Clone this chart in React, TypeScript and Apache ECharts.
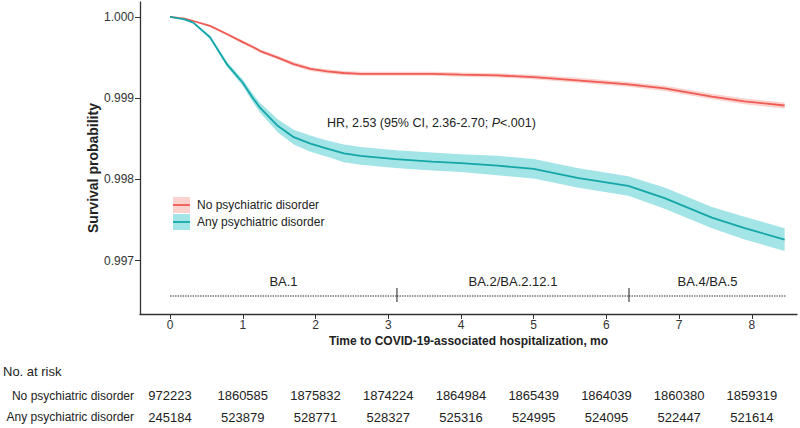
import React, { useEffect, useRef } from "react";
import * as echarts from "echarts";

const FONT = '"Liberation Sans", Arial, sans-serif';

// Time points (months)
const months = [0, 0.2, 0.32, 0.55, 0.78, 1.0, 1.14, 1.24, 1.48, 1.7, 1.93, 2.16, 2.39, 2.62, 3.1, 3.6, 4.0, 4.5, 5.0, 5.6, 6.3, 6.8, 7.45, 7.9, 8.45];

// No psychiatric disorder
const noPsySurv = [1.0, 0.99998, 0.99995, 0.99989, 0.99979, 0.99969, 0.99963, 0.99958, 0.9995, 0.99942, 0.99936, 0.99933, 0.99931, 0.9993, 0.9993, 0.9993, 0.99929, 0.99928, 0.99926, 0.99922, 0.99917, 0.99912, 0.99902, 0.99896, 0.99891];
const noPsyLower = [1.0, 0.999977, 0.999945, 0.99988, 0.999775, 0.99967, 0.99961, 0.99956, 0.999478, 0.999396, 0.999335, 0.999305, 0.999285, 0.999275, 0.999275, 0.999275, 0.999264, 0.999253, 0.999232, 0.99919, 0.99914, 0.999088, 0.998986, 0.998924, 0.998872];
const noPsyUpper = [1.0, 0.999983, 0.999955, 0.9999, 0.999805, 0.99971, 0.99965, 0.9996, 0.999522, 0.999444, 0.999385, 0.999355, 0.999335, 0.999325, 0.999325, 0.999325, 0.999316, 0.999307, 0.999288, 0.99925, 0.9992, 0.999152, 0.999054, 0.998996, 0.998948];

// Any psychiatric disorder
const anyPsySurv = [1.0, 0.99997, 0.99993, 0.99975, 0.99942, 0.99919, 0.999, 0.99888, 0.99866, 0.99852, 0.99844, 0.99838, 0.99832, 0.99829, 0.99825, 0.99822, 0.9982, 0.99817, 0.99813, 0.99802, 0.99792, 0.99777, 0.99753, 0.9974, 0.99726];
const anyPsyLower = [1.0, 0.999965, 0.99992, 0.99973, 0.99939, 0.99915, 0.99895, 0.99882, 0.99858, 0.99843, 0.99834, 0.99828, 0.99821, 0.99818, 0.99814, 0.99811, 0.99809, 0.99805, 0.99801, 0.9979, 0.9978, 0.99764, 0.9974, 0.99726, 0.99712];
const anyPsyUpper = [1.0, 0.999975, 0.99994, 0.99977, 0.99945, 0.99923, 0.99905, 0.99894, 0.99874, 0.99861, 0.99854, 0.99848, 0.99843, 0.9984, 0.99836, 0.99833, 0.99831, 0.99829, 0.99825, 0.99814, 0.99804, 0.9979, 0.99766, 0.99754, 0.9974];

const tickMonths = [0, 1, 2, 3, 4, 5, 6, 7, 8];
const yTicks = [0.997, 0.998, 0.999, 1.0];

const groupNames = ["No psychiatric disorder", "Any psychiatric disorder"];
const riskNoPsy = [972223, 1860585, 1875832, 1874224, 1864984, 1865439, 1864039, 1860380, 1859319];
const riskAnyPsy = [245184, 523879, 528771, 528327, 525316, 524995, 524095, 522447, 521614];

const variantNames = ["BA.1", "BA.2/BA.2.12.1", "BA.4/BA.5"];
const variantStart = [0, 3.12, 6.31];
const variantEnd = [3.12, 6.31, 8.47];

const X_MIN = -0.413;
const X_MAX = 8.62;
const Y_MIN = 0.996343;
const Y_MAX = 1.000184;

const RED_LINE = "#EF5B55";
const RED_BAND = "#FBD2CE";
const TEAL_LINE = "#14A6A9";
const TEAL_BAND = "#A3E4E6";

const pair = (xs: number[], ys: number[]) => xs.map((x, i) => [x, ys[i]]);

const bandSeries = (lower: number[], upper: number[], fill: string) => ({
  type: "custom",
  xAxisIndex: 0,
  yAxisIndex: 0,
  silent: true,
  data: [[months[0], upper[0]]],
  encode: { x: 0, y: 1 },
  renderItem: (_params: any, api: any) => {
    const top = months.map((m, i) => api.coord([m, upper[i]]));
    const bottom = months.map((m, i) => api.coord([m, lower[i]])).reverse();
    return {
      type: "polygon",
      shape: { points: top.concat(bottom) },
      style: { fill, stroke: "none" },
    };
  },
});

export default function App() {
  const ref = useRef<HTMLDivElement>(null);

  useEffect(() => {
    if (!ref.current) return;
    const chart = echarts.init(ref.current, undefined, { renderer: "svg" });

    const txt = (size: number, extra: any = {}) => ({
      fontFamily: FONT,
      fontSize: size,
      fill: "#222",
      ...extra,
    });

    const option: any = {
      animation: false,
      backgroundColor: "#fff",
      grid: [
        { left: 140, right: 3, top: 2, bottom: 114 },
        { left: 140, right: 3, top: 385, height: 46.6 },
      ],
      xAxis: [
        {
          type: "value",
          gridIndex: 0,
          min: X_MIN,
          max: X_MAX,
          splitLine: { show: false },
          axisLine: { show: true, onZero: false, lineStyle: { color: "#333", width: 1.3 } },
          axisTick: { show: true, length: 5, customValues: tickMonths, lineStyle: { color: "#333" } },
          axisLabel: { customValues: tickMonths, fontSize: 12, color: "#333", margin: 5, fontFamily: FONT },
        },
        { type: "value", gridIndex: 1, min: X_MIN, max: X_MAX, show: false },
      ],
      yAxis: [
        {
          type: "value",
          gridIndex: 0,
          min: Y_MIN,
          max: Y_MAX,
          splitLine: { show: false },
          axisLine: { show: true, onZero: false, lineStyle: { color: "#333", width: 1.3 } },
          axisTick: { show: true, length: 5, customValues: yTicks, lineStyle: { color: "#333" } },
          axisLabel: {
            customValues: yTicks,
            fontSize: 12,
            color: "#333",
            margin: 6,
            fontFamily: FONT,
            formatter: (v: number) => v.toFixed(3),
          },
        },
        {
          type: "category",
          gridIndex: 1,
          data: groupNames,
          inverse: true,
          axisLine: { show: false },
          axisTick: { show: false },
          splitLine: { show: false },
          axisLabel: { fontSize: 12, color: "#222", margin: 6, fontFamily: FONT },
        },
      ],
      series: [
        bandSeries(noPsyLower, noPsyUpper, RED_BAND),
        bandSeries(anyPsyLower, anyPsyUpper, TEAL_BAND),
        {
          type: "line",
          name: groupNames[0],
          data: pair(months, noPsySurv),
          symbol: "none",
          lineStyle: { color: RED_LINE, width: 1.8 },
        },
        {
          type: "line",
          name: groupNames[1],
          data: pair(months, anyPsySurv),
          symbol: "none",
          lineStyle: { color: TEAL_LINE, width: 1.8 },
        },
        {
          type: "custom",
          xAxisIndex: 0,
          yAxisIndex: 0,
          silent: true,
          clip: false,
          data: variantNames.map((n, i) => [variantStart[i], variantEnd[i], i]),
          encode: { x: [0, 1] },
          renderItem: (params: any, api: any) => {
            const i = api.value(2);
            const cs = params.coordSys;
            const x0 = api.coord([api.value(0), 1])[0];
            const x1 = api.coord([api.value(1), 1])[0];
            const yb = cs.y + cs.height;
            const yLine = yb - 18;
            const children: any[] = [
              {
                type: "line",
                shape: { x1: x0, y1: yLine, x2: x1, y2: yLine },
                style: { stroke: "#333", lineWidth: 1, lineDash: [1.5, 1] },
              },
              {
                type: "text",
                style: {
                  x: (x0 + x1) / 2,
                  y: yb - 32.5,
                  text: variantNames[i],
                  align: "center",
                  verticalAlign: "middle",
                  ...txt(13),
                },
              },
            ];
            if (i > 0) {
              children.push({
                type: "line",
                shape: { x1: x0, y1: yLine - 8, x2: x0, y2: yLine + 6 },
                style: { stroke: "#222", lineWidth: 1 },
              });
            }
            return { type: "group", children };
          },
        },
        {
          type: "custom",
          xAxisIndex: 1,
          yAxisIndex: 1,
          silent: true,
          clip: false,
          data: [
            ...riskNoPsy.map((v, i) => [tickMonths[i], 0, v]),
            ...riskAnyPsy.map((v, i) => [tickMonths[i], 1, v]),
          ],
          encode: { x: 0, y: 1 },
          renderItem: (params: any, api: any) => {
            const p = api.coord([api.value(0), api.value(1)]);
            return {
              type: "text",
              style: {
                x: p[0],
                y: p[1],
                text: String(api.value(2)),
                align: "center",
                verticalAlign: "middle",
                ...txt(13),
              },
            };
          },
        },
      ],
      graphic: [
        {
          type: "text",
          x: 93,
          y: 168,
          rotation: Math.PI / 2,
          style: {
            text: "Survival probability",
            align: "center",
            verticalAlign: "middle",
            textAlign: "center",
            textVerticalAlign: "middle",
            ...txt(14, { fontWeight: "bold" }),
          },
        },
        {
          type: "text",
          x: 468.5,
          y: 341,
          style: {
            text: "Time to COVID-19-associated hospitalization, mo",
            align: "center",
            verticalAlign: "middle",
            textAlign: "center",
            textVerticalAlign: "middle",
            ...txt(12, { fontWeight: "bold" }),
          },
        },
        {
          type: "text",
          x: 327,
          y: 123,
          style: {
            text: "HR, 2.53 (95% CI, 2.36-2.70; {i|P}<.001)",
            align: "left",
            verticalAlign: "middle",
            textAlign: "left",
            textVerticalAlign: "middle",
            rich: { i: { fontStyle: "italic", fontSize: 12.5, fontFamily: FONT, fill: "#222" } },
            ...txt(12.5),
          },
        },
        { type: "rect", shape: { x: 173, y: 197, width: 17, height: 16 }, style: { fill: RED_BAND } },
        { type: "line", shape: { x1: 173, y1: 205, x2: 190, y2: 205 }, style: { stroke: RED_LINE, lineWidth: 1.8 } },
        { type: "rect", shape: { x: 173, y: 214, width: 17, height: 16 }, style: { fill: TEAL_BAND } },
        { type: "line", shape: { x1: 173, y1: 222, x2: 190, y2: 222 }, style: { stroke: TEAL_LINE, lineWidth: 1.8 } },
        {
          type: "text",
          x: 197,
          y: 205,
          style: { text: groupNames[0], align: "left", verticalAlign: "middle", textAlign: "left", textVerticalAlign: "middle", ...txt(12) },
        },
        {
          type: "text",
          x: 197,
          y: 222,
          style: { text: groupNames[1], align: "left", verticalAlign: "middle", textAlign: "left", textVerticalAlign: "middle", ...txt(12) },
        },
        {
          type: "text",
          x: 3,
          y: 371,
          style: { text: "No. at risk", align: "left", verticalAlign: "middle", textAlign: "left", textVerticalAlign: "middle", ...txt(13) },
        },
      ],
    };

    chart.setOption(option);
    return () => chart.dispose();
  }, []);

  return (
    <div
      ref={ref}
      style={{ position: "absolute", left: 0, top: 0, width: 800, height: 428, background: "#fff" }}
    />
  );
}
